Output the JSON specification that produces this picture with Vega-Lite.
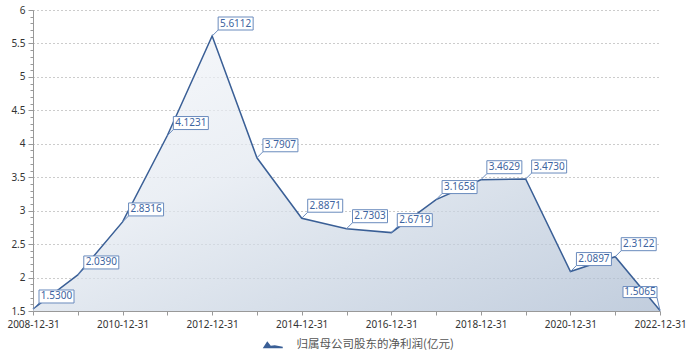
{
  "$schema": "https://vega.github.io/schema/vega-lite/v6.json",
  "width": 627,
  "height": 301,
  "autosize": {"type": "none"},
  "padding": {"left": 33, "top": 10, "right": 32, "bottom": 49},
  "background": "white",
  "config": {"view": {"stroke": null}, "font": "Noto Sans"},
  "data": {"values": [
    {"date": "2008-12-31", "value": 1.5300, "series": "归属母公司股东的净利润(亿元)"},
    {"date": "2009-12-31", "value": 2.0390, "series": "归属母公司股东的净利润(亿元)"},
    {"date": "2010-12-31", "value": 2.8316, "series": "归属母公司股东的净利润(亿元)"},
    {"date": "2011-12-31", "value": 4.1231, "series": "归属母公司股东的净利润(亿元)"},
    {"date": "2012-12-31", "value": 5.6112, "series": "归属母公司股东的净利润(亿元)"},
    {"date": "2013-12-31", "value": 3.7907, "series": "归属母公司股东的净利润(亿元)"},
    {"date": "2014-12-31", "value": 2.8871, "series": "归属母公司股东的净利润(亿元)"},
    {"date": "2015-12-31", "value": 2.7303, "series": "归属母公司股东的净利润(亿元)"},
    {"date": "2016-12-31", "value": 2.6719, "series": "归属母公司股东的净利润(亿元)"},
    {"date": "2017-12-31", "value": 3.1658, "series": "归属母公司股东的净利润(亿元)"},
    {"date": "2018-12-31", "value": 3.4629, "series": "归属母公司股东的净利润(亿元)"},
    {"date": "2019-12-31", "value": 3.4730, "series": "归属母公司股东的净利润(亿元)"},
    {"date": "2020-12-31", "value": 2.0897, "series": "归属母公司股东的净利润(亿元)"},
    {"date": "2021-12-31", "value": 2.3122, "series": "归属母公司股东的净利润(亿元)"},
    {"date": "2022-12-31", "value": 1.5065, "series": "归属母公司股东的净利润(亿元)"}
  ]},
  "encoding": {
    "x": {
      "field": "date", "type": "ordinal",
      "scale": {"type": "point", "padding": 0},
      "axis": {
        "title": null, "labelAngle": 0, "labelFontSize": 10, "labelColor": "#333",
        "labelExpr": "toNumber(substring(datum.value,0,4)) % 2 == 0 ? datum.value : ''",
        "domainColor": "#999", "tickColor": "#999", "tickSize": 4, "labelPadding": 4,
        "grid": false, "labelFont": "Noto Sans"
      }
    },
    "y": {
      "field": "value", "type": "quantitative",
      "scale": {"domain": [1.5, 6], "zero": false, "nice": false},
      "axis": {
        "title": null,
        "values": [1.5,1.6,1.7,1.8,1.9,2,2.1,2.2,2.3,2.4,2.5,2.6,2.7,2.8,2.9,3,3.1,3.2,3.3,3.4,3.5,3.6,3.7,3.8,3.9,4,4.1,4.2,4.3,4.4,4.5,4.6,4.7,4.8,4.9,5,5.1,5.2,5.3,5.4,5.5,5.6,5.7,5.8,5.9,6],
        "labelExpr": "abs(datum.value*2 - round(datum.value*2)) < 0.001 ? '' + round(datum.value*10)/10 : ''",
        "tickSize": {"condition": {"test": "abs(datum.value*2 - round(datum.value*2)) < 0.001", "value": 5}, "value": 3},
        "gridOpacity": {"condition": {"test": "abs(datum.value*2 - round(datum.value*2)) < 0.001 && datum.value > 1.55", "value": 1}, "value": 0},
        "gridDash": [1, 3], "gridColor": "#999", "gridWidth": 1,
        "domainColor": "#999", "tickColor": "#999", "labelColor": "#333", "labelFontSize": 10,
        "labelPadding": 3, "labelFont": "Noto Sans"
      }
    }
  },
  "layer": [
    {
      "mark": {
        "type": "area",
        "line": {"color": "#3a5f96", "strokeWidth": 1.5},
        "fill": {
          "gradient": "linear", "x1": 0, "y1": 0, "x2": 1, "y2": 1,
          "stops": [
            {"offset": 0, "color": "#f6f8fb"},
            {"offset": 0.4, "color": "#e2e8f0"},
            {"offset": 0.65, "color": "#c9d4e2"},
            {"offset": 1, "color": "#a7b8cf"}
          ]
        }
      },
      "encoding": {"y2": {"datum": 1.5}}
    },
    {
      "mark": {"type": "point", "filled": true, "opacity": 0, "size": 100},
      "encoding": {
        "fill": {
          "field": "series", "type": "nominal",
          "scale": {"range": ["#3a5f96"]},
          "legend": {
            "title": null, "orient": "none", "legendX": 234, "legendY": 329,
            "symbolType": "M-2,0.7L-1.1,-0.7L-0.4,0.2L0.4,0.1L2,0.4V0.7Z",
            "symbolSize": 100, "symbolOpacity": 1, "symbolStrokeWidth": 0,
            "labelFontSize": 11.5, "labelColor": "#555", "labelFont": "Noto Sans CJK SC",
            "labelOffset": 18, "labelLimit": 400
          }
        }
      }
    },
    {
      "transform": [{"filter": "datum.date != '2022-12-31'"}],
      "mark": {
        "type": "point", "shape": "M0,0L0.6,-0.6M0.6,-0.6H4.1V-1.9H0.6Z",
        "size": 400, "fill": "white", "stroke": "#6a8bbd", "strokeWidth": 1, "opacity": 1, "filled": true
      }
    },
    {
      "transform": [{"filter": "datum.date == '2022-12-31'"}],
      "mark": {
        "type": "point", "shape": "M0,0L-0.3,-1.3M-0.3,-1.3H-3.7V-2.4H-0.3Z",
        "size": 400, "fill": "white", "stroke": "#6a8bbd", "strokeWidth": 1, "opacity": 1, "filled": true
      }
    },
    {
      "transform": [{"filter": "datum.date != '2022-12-31'"}],
      "mark": {"type": "text", "dx": 23.5, "dy": -12.5, "fontSize": 10, "color": "#3d64a0", "baseline": "middle", "align": "center", "font": "Noto Sans"},
      "encoding": {"text": {"field": "value", "type": "quantitative", "format": ".4f"}}
    },
    {
      "transform": [{"filter": "datum.date == '2022-12-31'"}],
      "mark": {"type": "text", "dx": -20, "dy": -18.5, "fontSize": 10, "color": "#3d64a0", "baseline": "middle", "align": "center", "font": "Noto Sans"},
      "encoding": {"text": {"field": "value", "type": "quantitative", "format": ".4f"}}
    }
  ]
}
